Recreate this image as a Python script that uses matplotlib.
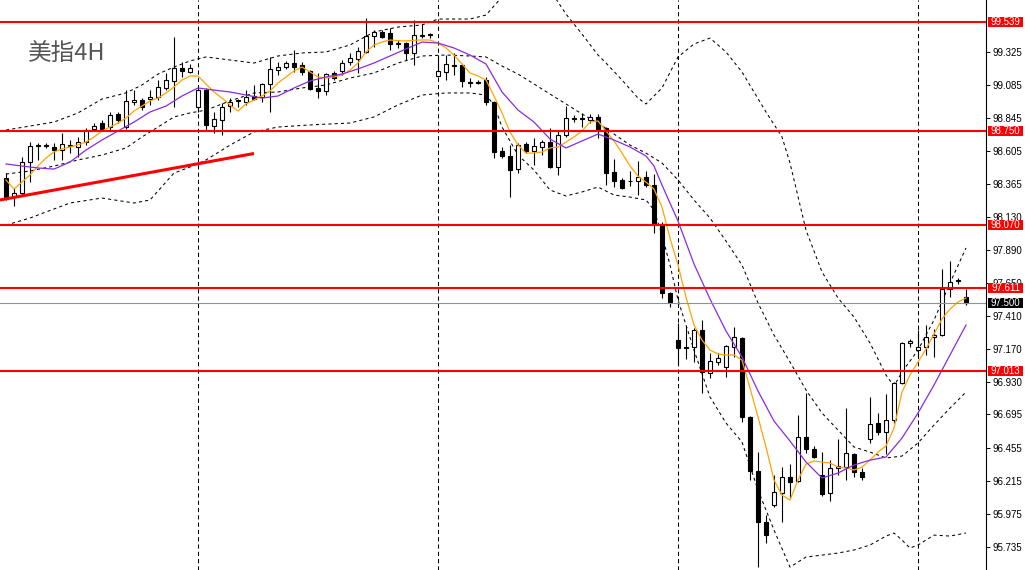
import numpy as np
import matplotlib
matplotlib.use("Agg")
import matplotlib.pyplot as plt
from matplotlib.patches import Rectangle
from matplotlib.transforms import blended_transform_factory

# 4H candles (oldest -> newest)
opens = [98.410, 98.272, 98.301, 98.526, 98.638, 98.641, 98.634, 98.612, 98.641, 98.634,
         98.670, 98.765, 98.808, 98.779, 98.873, 98.779, 98.960, 98.975, 98.982, 98.997,
         99.062, 99.113, 99.207, 99.178, 98.924, 99.047, 98.786, 98.830, 98.931, 98.968,
         98.960, 99.004, 98.997, 99.091, 99.192, 99.214, 99.243, 99.229, 99.185, 99.062,
         99.040, 99.171, 99.185, 99.250, 99.272, 99.323, 99.439, 99.468, 99.461, 99.381,
         99.388, 99.316, 99.439, 99.446, 99.149, 99.178, 99.229, 99.229, 99.105, 99.105,
         99.120, 98.960, 98.605, 98.569, 98.475, 98.656, 98.605, 98.634, 98.670, 98.489,
         98.721, 98.837, 98.840, 98.830, 98.852, 98.772, 98.453, 98.395, 98.388, 98.388,
         98.417, 98.359, 98.076, 97.576, 97.235, 97.185, 97.184, 97.307, 96.996, 97.075,
         97.039, 97.184, 97.250, 96.677, 96.285, 95.915, 96.039, 96.126, 96.242, 96.213,
         96.532, 96.445, 96.256, 96.126, 96.307, 96.314, 96.409, 96.278, 96.517, 96.633,
         96.568, 96.655, 96.923, 97.213, 97.162, 97.184, 97.257, 97.271, 97.605, 97.663,
         97.547]
highs = [98.446, 98.337, 98.562, 98.670, 98.663, 98.663, 98.663, 98.736, 98.685, 98.707,
         98.772, 98.808, 98.830, 98.888, 98.888, 99.047, 99.047, 98.990, 99.047, 99.120,
         99.171, 99.432, 99.250, 99.236, 99.062, 99.062, 98.888, 98.953, 98.990, 98.982,
         99.047, 99.084, 99.098, 99.287, 99.250, 99.258, 99.337, 99.250, 99.192, 99.171,
         99.171, 99.185, 99.265, 99.316, 99.359, 99.569, 99.482, 99.482, 99.497, 99.410,
         99.395, 99.555, 99.526, 99.461, 99.301, 99.301, 99.316, 99.236, 99.134, 99.120,
         99.142, 98.968, 98.634, 98.649, 98.663, 98.670, 98.699, 98.685, 98.772, 98.757,
         98.931, 98.866, 98.881, 98.873, 98.873, 98.779, 98.547, 98.410, 98.460, 98.533,
         98.460, 98.439, 98.090, 97.583, 97.358, 97.336, 97.322, 97.380, 97.141, 97.141,
         97.199, 97.329, 97.257, 96.684, 96.423, 95.966, 96.256, 96.314, 96.336, 96.691,
         96.851, 96.466, 96.423, 96.365, 96.517, 96.742, 96.416, 96.307, 96.822, 96.706,
         96.843, 96.931, 97.221, 97.243, 97.307, 97.344, 97.315, 97.750, 97.808, 97.685,
         97.605]
lows = [98.250, 98.207, 98.286, 98.380, 98.540, 98.627, 98.540, 98.540, 98.591, 98.562,
        98.649, 98.757, 98.757, 98.757, 98.808, 98.765, 98.939, 98.902, 98.939, 98.975,
        99.047, 98.924, 99.142, 99.171, 98.888, 98.757, 98.736, 98.721, 98.888, 98.924,
        98.939, 98.975, 98.960, 98.888, 99.156, 99.200, 99.178, 99.156, 99.047, 98.990,
        99.011, 99.120, 99.156, 99.229, 99.171, 99.316, 99.359, 99.424, 99.337, 99.352,
        99.265, 99.229, 99.424, 99.424, 99.142, 99.120, 99.156, 99.069, 99.069, 99.091,
        98.939, 98.554, 98.554, 98.272, 98.446, 98.591, 98.504, 98.576, 98.482, 98.431,
        98.707, 98.815, 98.779, 98.808, 98.699, 98.359, 98.344, 98.330, 98.351, 98.286,
        98.344, 98.011, 97.540, 97.474, 97.054, 97.097, 97.075, 96.851, 96.959, 97.054,
        96.967, 97.112, 96.640, 96.220, 95.589, 95.763, 96.024, 95.915, 96.090, 96.206,
        96.416, 96.380, 96.104, 96.068, 96.256, 96.220, 96.242, 96.220, 96.488, 96.546,
        96.409, 96.633, 96.916, 97.184, 97.104, 97.126, 97.112, 97.264, 97.547, 97.641,
        97.489]
closes = [98.272, 98.301, 98.526, 98.641, 98.645, 98.645, 98.612, 98.656, 98.648, 98.670,
          98.757, 98.786, 98.765, 98.866, 98.830, 98.968, 98.975, 98.924, 98.997, 99.069,
          99.120, 99.207, 99.185, 99.207, 99.047, 98.794, 98.837, 98.924, 98.960, 98.971,
          98.997, 98.982, 99.091, 99.200, 99.214, 99.243, 99.214, 99.178, 99.055, 99.040,
          99.163, 99.134, 99.243, 99.279, 99.330, 99.439, 99.468, 99.432, 99.381, 99.385,
          99.316, 99.446, 99.446, 99.450, 99.185, 99.236, 99.225, 99.113, 99.100, 99.100,
          98.960, 98.598, 98.569, 98.467, 98.649, 98.605, 98.641, 98.670, 98.489, 98.721,
          98.844, 98.844, 98.837, 98.852, 98.765, 98.446, 98.388, 98.337, 98.385, 98.417,
          98.359, 98.069, 97.576, 97.510, 97.177, 97.180, 97.307, 97.003, 97.083, 97.104,
          97.192, 97.257, 96.677, 96.285, 95.915, 95.821, 96.133, 96.242, 96.206, 96.532,
          96.445, 96.387, 96.119, 96.307, 96.321, 96.416, 96.278, 96.242, 96.626, 96.568,
          96.655, 96.923, 97.213, 97.228, 97.184, 97.257, 97.271, 97.605, 97.655, 97.667,
          97.500]

# fast MA (orange), one value per candle
ma_fast = [98.395, 98.329, 98.380, 98.431, 98.496, 98.554, 98.598, 98.620, 98.634, 98.649,
           98.670, 98.707, 98.750, 98.779, 98.808, 98.844, 98.895, 98.931, 98.968, 98.989,
           99.026, 99.069, 99.120, 99.149, 99.149, 99.091, 99.033, 98.989, 98.939, 98.895,
           98.946, 98.975, 99.004, 99.040, 99.098, 99.142, 99.185, 99.214, 99.178, 99.142,
           99.134, 99.142, 99.156, 99.192, 99.243, 99.323, 99.374, 99.395, 99.410, 99.405,
           99.403, 99.408, 99.410, 99.410, 99.388, 99.352, 99.301, 99.236, 99.171, 99.149,
           99.120, 99.004, 98.881, 98.743, 98.649, 98.590, 98.590, 98.598, 98.627, 98.634,
           98.670, 98.707, 98.750, 98.815, 98.823, 98.750, 98.678, 98.590, 98.496, 98.424,
           98.380, 98.329, 98.199, 97.974, 97.778, 97.546, 97.343, 97.234, 97.162, 97.133,
           97.126, 97.126, 97.089, 96.886, 96.676, 96.459, 96.219, 96.110, 96.074, 96.219,
           96.335, 96.357, 96.350, 96.343, 96.313, 96.306, 96.292, 96.313, 96.364, 96.422,
           96.466, 96.596, 96.857, 96.981, 97.075, 97.169, 97.278, 97.387, 97.459, 97.510,
           97.539]

# slow MA (purple)
ma_slow_idx = list(range(0, 81, 2)) + [81] + list(range(82, 121, 2))
ma_slow = [98.511, 98.496, 98.482, 98.474, 98.525, 98.612, 98.685, 98.750, 98.815, 98.888,
           98.931, 99.004, 99.062, 99.047, 99.033, 99.011, 98.989, 99.004, 99.062, 99.113,
           99.142, 99.163, 99.200, 99.243, 99.294, 99.345, 99.395, 99.388, 99.352, 99.301,
           99.236, 99.033, 98.902, 98.815, 98.692, 98.627, 98.678, 98.728, 98.685, 98.634,
           98.569, 98.496, 98.358, 98.097, 97.786, 97.532, 97.300, 97.111, 96.865, 96.647,
           96.502, 96.350, 96.234, 96.270, 96.328, 96.364, 96.386, 96.524, 96.705, 96.908,
           97.126, 97.343]

# bollinger bands (dotted)
bb_up_idx = [0, 3, 6, 9, 12, 15, 17, 19, 21, 23, 25, 28, 31, 34, 37, 40, 43, 46, 49, 52,
             54, 58, 60, 62, 66, 68, 70, 72, 74, 75, 77, 79, 80, 82, 84, 86, 88, 90, 92, 95,
             97, 98, 100, 102, 104, 106, 108, 110, 111, 112, 114, 116, 118, 120]
bb_up = [98.757, 98.786, 98.815, 98.881, 98.982, 99.026, 99.084, 99.163, 99.214, 99.258,
         99.287, 99.265, 99.243, 99.294, 99.316, 99.323, 99.374, 99.468, 99.504, 99.519,
         99.562, 99.562, 99.591, 99.722, 99.881, 99.773, 99.598, 99.453, 99.301, 99.243,
         99.120, 98.989, 98.946, 99.062, 99.287, 99.381, 99.424, 99.323, 99.178, 98.888,
         98.707, 98.518, 98.032, 97.728, 97.539, 97.401, 97.213, 96.981, 96.901, 97.002,
         97.162, 97.379, 97.648, 97.902]
bb_mid_idx = [0, 3, 6, 9, 12, 15, 17, 19, 21, 23, 25, 28, 31, 34, 37, 40, 43, 46, 49, 52,
              55, 58, 60, 62, 64, 66, 68, 70, 72, 74, 76, 78, 80, 82, 84, 86, 88, 90, 92, 94,
              96, 98, 100, 102, 104, 106, 108, 110, 112, 114, 116, 118, 120]
bb_mid = [98.438, 98.460, 98.496, 98.540, 98.576, 98.627, 98.707, 98.779, 98.852, 98.881,
          98.902, 98.968, 99.026, 99.033, 99.062, 99.084, 99.134, 99.171, 99.243, 99.294,
          99.301, 99.294, 99.287, 99.221, 99.163, 99.091, 99.018, 98.946, 98.873, 98.808,
          98.728, 98.648, 98.590, 98.518, 98.395, 98.250, 98.119, 97.952, 97.778, 97.503,
          97.271, 97.075, 96.872, 96.705, 96.582, 96.459, 96.422, 96.379, 96.393, 96.488,
          96.618, 96.741, 96.857]
bb_low_idx = [0, 3, 5, 8, 12, 16, 18, 21, 23, 25, 28, 31, 34, 38, 43, 46, 49, 52, 55, 58,
              60, 61, 62, 64, 66, 68, 70, 72, 74, 76, 78, 80, 81, 82, 83, 84, 86, 88, 90, 92,
              94, 96, 98, 100, 102, 104, 106, 108, 110, 111, 112, 113, 114, 116, 118, 120]
bb_low = [98.068, 98.119, 98.163, 98.228, 98.264, 98.228, 98.250, 98.445, 98.489, 98.540,
          98.648, 98.743, 98.779, 98.794, 98.808, 98.852, 98.939, 99.011, 99.026, 99.026,
          99.011, 98.939, 98.779, 98.576, 98.467, 98.322, 98.279, 98.308, 98.344, 98.286,
          98.271, 98.250, 98.177, 97.996, 97.778, 97.525, 97.162, 96.821, 96.633, 96.495,
          96.147, 95.857, 95.588, 95.661, 95.675, 95.690, 95.712, 95.748, 95.813, 95.835,
          95.784, 95.726, 95.748, 95.820, 95.813, 95.835]

levels = [99.539, 98.750, 98.070, 97.611, 97.013]
last_price = 97.500
trend_x = [-0.75, 31.0]
trend_y = [98.250, 98.587]
week_starts = [24, 54, 84, 114]
tick_vals = [99.325, 99.085, 98.845, 98.605, 98.365, 98.130, 97.890, 97.650, 97.410,
             97.170, 96.930, 96.695, 96.455, 96.215, 95.975, 95.735]

plt.rcParams['font.family'] = ['Liberation Sans', 'DejaVu Sans']

fig = plt.figure(figsize=(10.3, 5.7), dpi=100)
ax = fig.add_axes([0, 0, 986 / 1030, 1])
ax.set_xlim(-0.75, 122.5)
ax.set_ylim(95.567, 99.700)

for s in ("left", "top", "bottom"):
    ax.spines[s].set_visible(False)
ax.spines["right"].set_linewidth(0.8)
ax.set_xticks([])
ax.yaxis.tick_right()
ax.set_yticks(tick_vals)
ax.set_yticklabels([f"{v:.3f}" for v in tick_vals])
ax.tick_params(axis="y", direction="out", length=3, width=0.7, pad=1.5, labelsize=7)

for w in week_starts:
    ax.axvline(w, color="k", lw=0.75, ls=(0, (4, 3)), zorder=1)

dot = (0, (3, 3))
ax.plot(bb_up_idx, bb_up, color="k", lw=0.75, ls=dot, zorder=2)
ax.plot(bb_mid_idx, bb_mid, color="k", lw=0.75, ls=dot, zorder=2)
ax.plot(bb_low_idx, bb_low, color="k", lw=0.75, ls=dot, zorder=2)

o, h, l, c = map(np.asarray, (opens, highs, lows, closes))
x = np.arange(len(o))
ax.vlines(x, l, h, color="k", lw=0.8, zorder=3)
bull = c >= o
body = np.maximum(np.abs(c - o), 0.004)
ax.bar(x, body, bottom=np.minimum(o, c), width=0.55,
       color=np.where(bull, "white", "black"), edgecolor="k", lw=0.8, zorder=4)

ax.plot(x, ma_fast, color="#FFA500", lw=0.9, zorder=5)
ax.plot(ma_slow_idx, ma_slow, color="#8A2BE2", lw=0.9, zorder=5)

ax.plot(trend_x, trend_y, color="red", lw=2.2, zorder=6, solid_capstyle="butt")
ax.axhline(last_price, color="#8c939b", lw=0.8, zorder=5)
for lv in levels:
    ax.axhline(lv, color="red", lw=1.5, zorder=6)

# price tags on the right scale
trans = blended_transform_factory(fig.transFigure, ax.transData)
tags = [(lv, "red") for lv in levels] + [(last_price, "black")]
for lv, col in tags:
    ax.add_patch(Rectangle((988 / 1030, lv - 0.036), 35 / 1030, 0.072, transform=trans,
                           facecolor=col, edgecolor="none", clip_on=False, zorder=10))
    ax.text(1005.5 / 1030, lv, f"{lv:.3f}", transform=trans, color="white", fontsize=7,
            ha="center", va="center", clip_on=False, zorder=11)

ax.text(28 / 986, 1 - 54 / 570, "美指4H", transform=ax.transAxes, fontsize=17,
        color="#555555", family=["Noto Sans CJK SC", "DejaVu Sans"], ha="left", va="center")

fig.savefig("out.png", dpi=100)
